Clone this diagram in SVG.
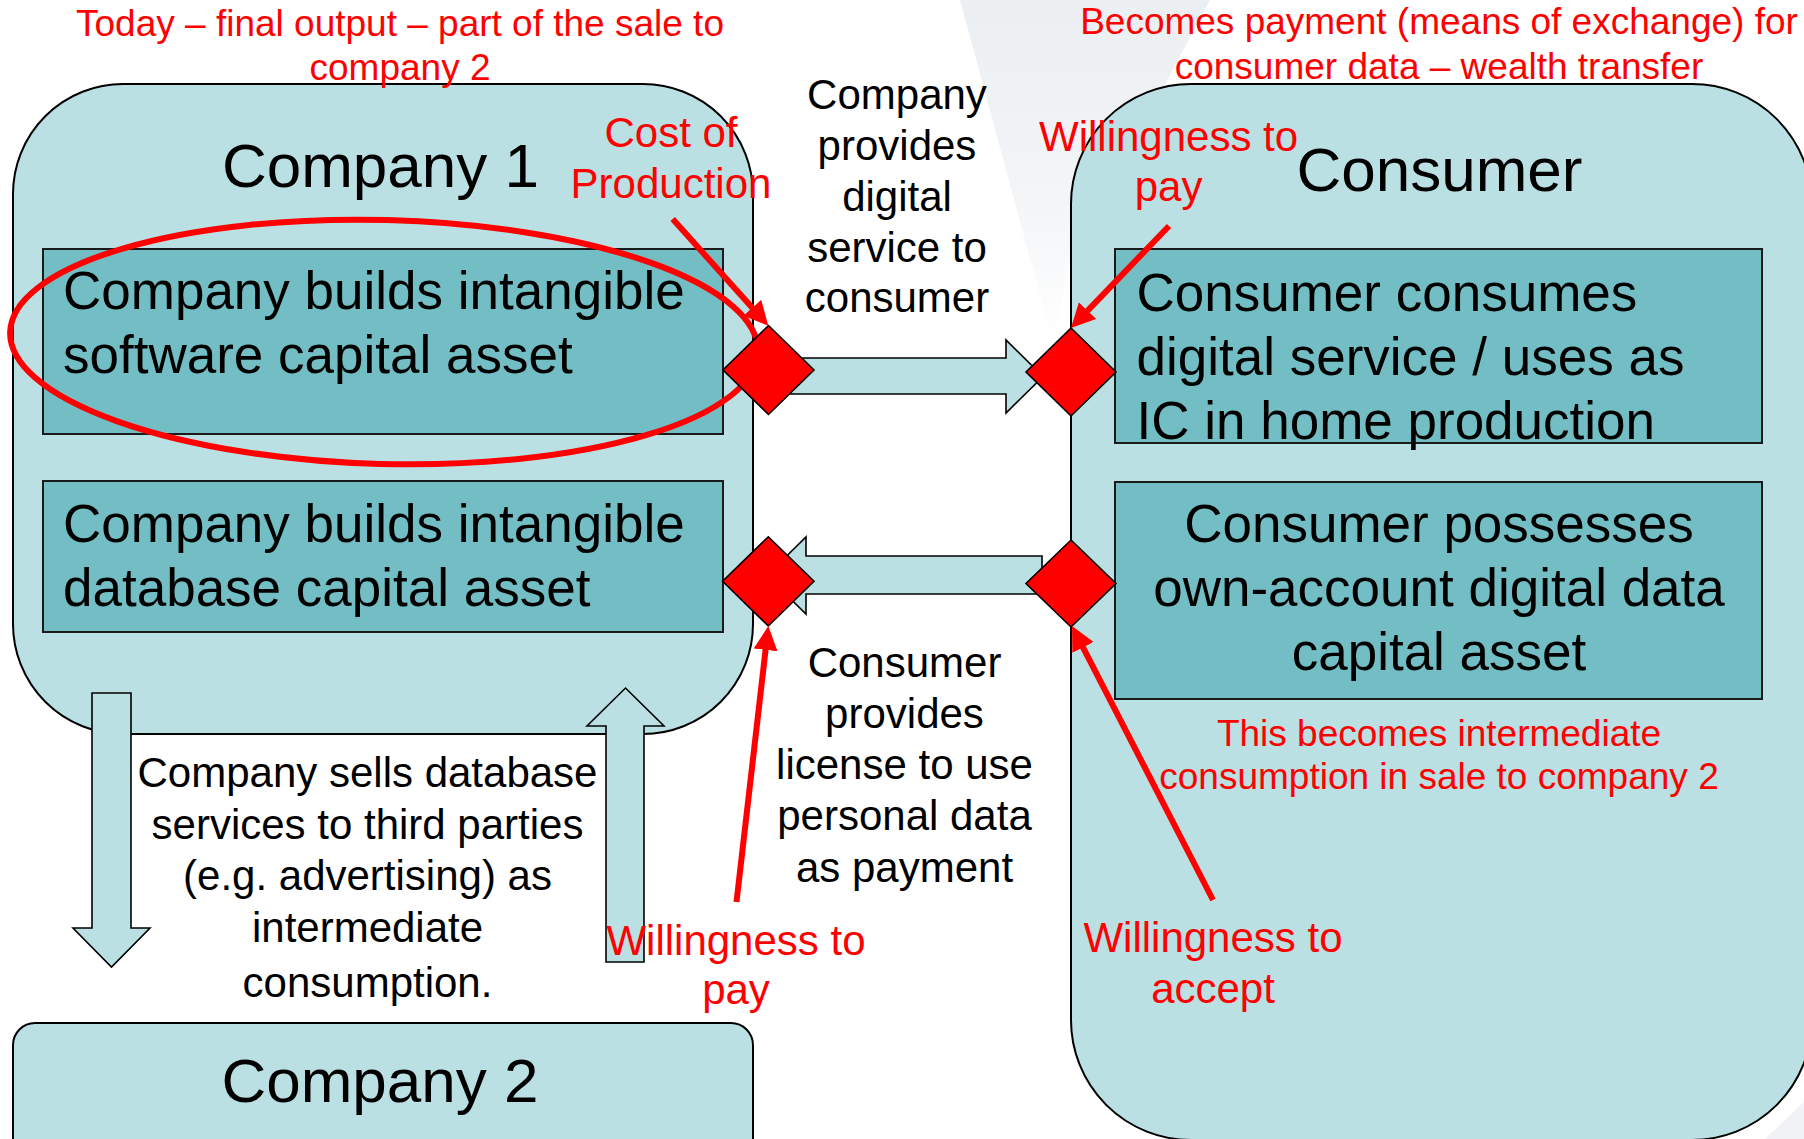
<svg xmlns="http://www.w3.org/2000/svg" width="1804" height="1139" viewBox="0 0 1804 1139">
  <defs>
    <linearGradient id="streak" x1="0" y1="0" x2="0" y2="1">
      <stop offset="0" stop-color="#EBEFF2"/>
      <stop offset="0.6" stop-color="#F3F5F7"/>
      <stop offset="1" stop-color="#FFFFFF"/>
    </linearGradient>
    <marker id="redhead" markerUnits="userSpaceOnUse" markerWidth="26" markerHeight="26" refX="2" refY="12" orient="auto">
      <path d="M0,0 L24,12 L0,24 z" fill="#FF0000"/>
    </marker>
  </defs>
  <style>
    .outer { fill: #BBE0E3; stroke: #000; stroke-width: 2; }
    .inner { fill: #72BEC4; stroke: #1A1A1A; stroke-width: 2; }
    .block { fill: #BBE0E3; stroke: #000; stroke-width: 1.6; stroke-linejoin: miter; }
    .dia { fill: #FF0000; stroke: #000; stroke-width: 1.6; }
    .redline { stroke: #FF0000; stroke-width: 6; fill: none; marker-end: url(#redhead); }
    text { font-family: "Liberation Sans", Arial, sans-serif; }
    .title { font-size: 62px; fill: #000; }
    .boxtxt { font-size: 53px; fill: #000; }
    .mid { font-size: 42px; fill: #000; text-anchor: middle; }
    .redmid { font-size: 42px; fill: #FF0000; text-anchor: middle; }
    .redsmall { font-size: 37px; fill: #FF0000; text-anchor: middle; }
  </style>

  <rect width="1804" height="1139" fill="#FFFFFF"/>
  <polygon points="960,0 1210,0 1071,260 1052,340" fill="url(#streak)"/>
  <polygon points="1765,1139 1804,1102 1804,1139" fill="#F0F2F5"/>

  <g id="company1">
    <rect class="outer" x="13" y="84" width="740" height="650" rx="110" ry="110"/>
    <text class="title" x="380.5" y="187" text-anchor="middle">Company 1</text>
  </g>

  <g id="company2">
    <rect class="outer" x="13" y="1023" width="740" height="150" rx="22" ry="22"/>
    <text class="title" x="380" y="1102" text-anchor="middle">Company 2</text>
  </g>

  <g id="consumer">
    <rect class="outer" x="1071" y="84" width="741" height="1056" rx="120" ry="120"/>
    <text class="title" x="1439.5" y="191" text-anchor="middle">Consumer</text>
  </g>

  <g id="box-software">
    <rect class="inner" x="43" y="249" width="680" height="185"/>
    <text class="boxtxt" x="63" y="309">Company builds intangible</text>
    <text class="boxtxt" x="63" y="373">software capital asset</text>
  </g>

  <g id="box-database">
    <rect class="inner" x="43" y="481" width="680" height="151"/>
    <text class="boxtxt" x="63" y="542">Company builds intangible</text>
    <text class="boxtxt" x="63" y="606">database capital asset</text>
  </g>

  <g id="box-consumes">
    <rect class="inner" x="1115" y="249" width="647" height="194"/>
    <text class="boxtxt" x="1136.5" y="311">Consumer consumes</text>
    <text class="boxtxt" x="1136.5" y="375">digital service / uses as</text>
    <text class="boxtxt" x="1136.5" y="439">IC in home production</text>
  </g>

  <g id="box-possesses">
    <rect class="inner" x="1115" y="482" width="647" height="217"/>
    <text class="boxtxt" x="1439" y="542" text-anchor="middle">Consumer possesses</text>
    <text class="boxtxt" x="1439" y="606" text-anchor="middle">own-account digital data</text>
    <text class="boxtxt" x="1439" y="670" text-anchor="middle">capital asset</text>
  </g>

  <g id="connectors">
    <polygon class="block" points="768,358 1006,358 1006,340 1043,376.5 1006,413 1006,394 768,394"/>
    <polygon class="block" points="1042,556 806,556 806,537 767,575.5 806,614 806,594 1042,594"/>
    <polygon class="block" points="92,693 131,693 131,928 150,928 111.5,967 73,928 92,928"/>
    <polygon class="block" points="606,962 644,962 644,726 664,726 625.5,688 587,726 606,726"/>
  </g>

  <g id="labels">
    <text class="redsmall" x="400" y="36">Today – final output – part of the sale to</text>
    <text class="redsmall" x="400" y="80">company 2</text>
    <text class="redsmall" x="1439" y="34">Becomes payment (means of exchange) for</text>
    <text class="redsmall" x="1439" y="79">consumer data – wealth transfer</text>

    <text class="mid" x="897" y="109">Company</text>
    <text class="mid" x="897" y="160">provides</text>
    <text class="mid" x="897" y="210.5">digital</text>
    <text class="mid" x="897" y="261.5">service to</text>
    <text class="mid" x="897" y="312">consumer</text>

    <text class="mid" x="904.5" y="677">Consumer</text>
    <text class="mid" x="904.5" y="728">provides</text>
    <text class="mid" x="904.5" y="779">license to use</text>
    <text class="mid" x="904.5" y="830">personal data</text>
    <text class="mid" x="904.5" y="881.5">as payment</text>

    <text class="mid" x="367.5" y="787">Company sells database</text>
    <text class="mid" x="367.5" y="839">services to third parties</text>
    <text class="mid" x="367.5" y="890">(e.g. advertising) as</text>
    <text class="mid" x="367.5" y="942">intermediate</text>
    <text class="mid" x="367.5" y="997">consumption.</text>

    <text class="redsmall" x="1439" y="745.5">This becomes intermediate</text>
    <text class="redsmall" x="1439" y="789">consumption in sale to company 2</text>
  </g>

  <g id="highlight">
    <ellipse cx="384" cy="342" rx="374" ry="122" transform="rotate(1.5 384 342)" fill="none" stroke="#FF0000" stroke-width="6"/>
  </g>

  <g id="diamonds">
    <polygon id="d-cost" class="dia" points="768.5,325.5 814,370 768.5,414.5 723,370"/>
    <polygon id="d-wtp-top" class="dia" points="1071,328 1116,372 1071,416 1026,372"/>
    <polygon id="d-wtp-bottom" class="dia" points="768.3,536.8 814,581.3 768.3,626 722.6,581.3"/>
    <polygon id="d-wta" class="dia" points="1071,540 1116,583.5 1071,627 1026,583.5"/>
  </g>

  <g id="red-annotations">
    <text class="redmid" x="671" y="147">Cost of</text>
    <text class="redmid" x="671" y="198">Production</text>
    <text class="redmid" x="1168.6" y="151">Willingness to</text>
    <text class="redmid" x="1168.6" y="201">pay</text>
    <text class="redmid" x="736" y="955">Willingness to</text>
    <text class="redmid" x="736" y="1004">pay</text>
    <text class="redmid" x="1213" y="952">Willingness to</text>
    <text class="redmid" x="1213" y="1002.5">accept</text>
    <line class="redline" x1="672.7" y1="219" x2="753.6" y2="309.3"/>
    <line class="redline" x1="1169" y1="226" x2="1086.2" y2="312.1"/>
    <line class="redline" x1="736.5" y1="902" x2="765.8" y2="647.9"/>
    <line class="redline" x1="1213" y1="900" x2="1082.1" y2="645.6"/>
  </g>
</svg>
